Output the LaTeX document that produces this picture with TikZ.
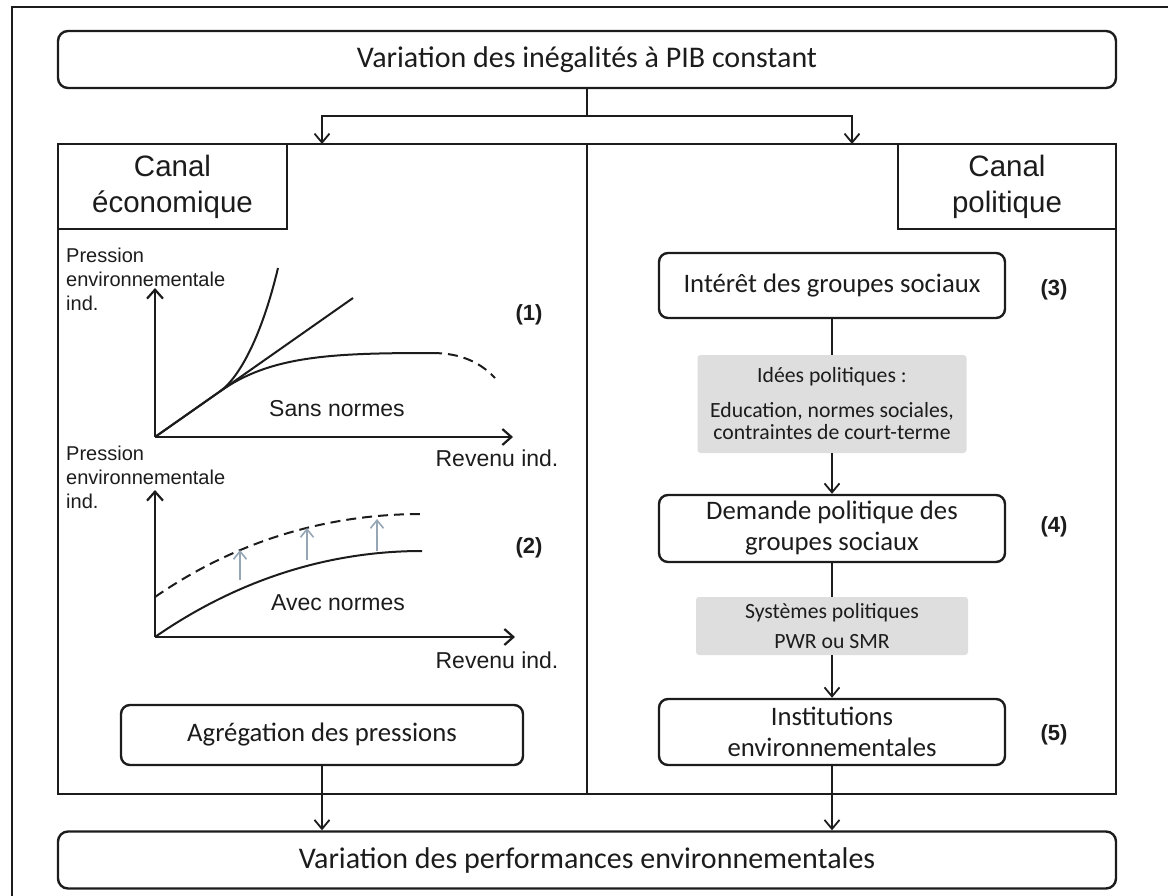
\documentclass[tikz,border=0pt]{standalone}
\usepackage{fontspec}
\setmainfont{Carlito}
\newfontfamily\arialfont{Liberation Sans}
\newfontfamily\arialgras{Liberation Sans Bold}
\usetikzlibrary{positioning,arrows.meta,calc}
\definecolor{grisbox}{RGB}{222,222,222}
\definecolor{grisfleche}{RGB}{150,166,180}
\definecolor{encre}{RGB}{28,28,28}
\tikzset{
  cadre/.style={draw=encre, line width=2.4pt},
  boite/.style={cadre, rounded corners=9pt, align=center, inner sep=0pt, text=encre,
    minimum width=346pt, font=\fontsize{26.7}{31}\selectfont},
  grande/.style={cadre, rounded corners=10pt, inner sep=0pt, text=encre,
    minimum width=1058pt, minimum height=57pt, font=\fontsize{30}{36}\selectfont},
  grise/.style={fill=grisbox, rounded corners=3pt, align=center, inner sep=0pt, text=encre,
    font=\fontsize{21.7}{22}\selectfont},
  canal/.style={cadre, align=center, inner sep=0pt, minimum height=85pt, text=encre,
    font=\arialfont\fontsize{29.5}{36}\selectfont},
  etiq/.style={align=left, inner sep=0pt, text=encre, font=\arialfont\fontsize{20}{24}\selectfont},
  legende/.style={inner sep=0pt, text=encre, font=\arialfont\fontsize{23}{27}\selectfont},
  num/.style={inner sep=0pt, text=encre, font=\arialgras\fontsize{22}{27}\selectfont},
  lien/.style={draw=encre, line width=1.8pt},
  fleche/.style={lien, -{Straight Barb[length=9pt,width=15pt,line width=1.8pt]}},
  axe/.style={draw=encre, line width=2.2pt, -{Straight Barb[length=9pt,width=16pt,line width=2.2pt]}},
  courbe/.style={draw=encre, line width=2pt},
  pointille/.style={courbe, dashed, dash pattern=on 10pt off 6pt},
  hausse/.style={draw=grisfleche, line width=1.6pt, -{Straight Barb[length=8pt,width=13pt,line width=1.6pt]}}
}
\begin{document}
\begin{tikzpicture}[x=1pt,y=-1pt]
\useasboundingbox (0,0) rectangle (1168,896);
% page frame
\draw[draw=encre, line width=2pt] (12,896) -- (12,7) -- (1168,7);

\node[grande] (inegal) at (587,59.5) {Variation des inégalités à PIB constant};
\node[grande] (perf) at (587,860) {Variation des performances environnementales};

% the two channels
\node[cadre, minimum width=1058pt, minimum height=650pt, inner sep=0pt] (canaux) at (587,469) {};
\draw[cadre] (canaux.north) -- (canaux.south);
\node[canal, anchor=north west, minimum width=229pt] (eco) at (canaux.north west) {Canal\\économique};
\node[canal, anchor=north east, minimum width=218pt] (pol) at (canaux.north east) {Canal\\politique};

\coordinate (split) at (587,116);
\coordinate (ecoIn) at (322,144);
\coordinate (polIn) at (852,144);
\draw[lien] (inegal) -- (split);
\draw[fleche] (split) -| (ecoIn);
\draw[fleche] (split) -| (polIn);

% graph (1)
\coordinate (o1) at (155,437);
\coordinate (y1) at (155,288);
\coordinate (x1) at (513,437);
\coordinate (branche) at (220,391.4);
\draw[axe] (o1) -- (y1);
\draw[axe] (o1) -- (x1);
\draw[courbe] (o1) -- (branche) .. controls (240,377) and (262,335) .. (278,268);
\draw[courbe] (o1) -- (353,298);
\draw[courbe] (branche) .. controls (270,356) and (330,353) .. (432,353) coordinate (pic);
\draw[pointille] (pic) .. controls (460,353) and (480,362) .. (495,378);
\node[etiq, anchor=north west] (press1) at (66,248) {Pression\\environnementale\\ind.};
\node[legende] (sans) at (337,409) {Sans normes};
\node[legende] (rev1) at (497,458) {Revenu ind.};
\node[num] (n1) at (529,315) {(1)};

% graph (2)
\coordinate (o2) at (155,637);
\coordinate (y2) at (155,490);
\coordinate (x2) at (515,637);
\draw[axe] (o2) -- (y2);
\draw[axe] (o2) -- (x2);
\draw[courbe] (o2) .. controls (230,585) and (320,551) .. (422,551);
\draw[pointille] (155,597) .. controls (230,545) and (320,514) .. (422,514);
\foreach \x/\a/\b in {240/580/550, 307/560/528, 377/551/519}
  \draw[hausse] (\x,\a) -- (\x,\b);
\node[etiq, anchor=north west] (press2) at (66,446) {Pression\\environnementale\\ind.};
\node[legende] (avec) at (338,603) {Avec normes};
\node[legende] (rev2) at (497,660) {Revenu ind.};
\node[num] (n2) at (529,548) {(2)};

\node[boite, minimum width=402pt, minimum height=60pt] (agreg) at (322,735) {Agrégation des pressions};

% political chain
\node[boite, minimum height=65pt] (interet) at (832,285.5) {Intérêt des groupes sociaux};
\node[grise, minimum width=269pt, minimum height=98pt] (idees) at (832,404)
  {Idées politiques :\\[13pt]Education, normes sociales,\\contraintes de court-terme};
\node[boite, minimum height=67pt] (demande) at (832,528.5) {Demande politique des\\groupes sociaux};
\node[grise, minimum width=272pt, minimum height=58pt, font=\fontsize{21.7}{30}\selectfont] (systemes) at (832,626)
  {Systèmes politiques\\PWR ou SMR};
\node[boite, minimum height=66pt] (instit) at (832,732) {Institutions\\environnementales};
\node[num] (n3) at (1054,290) {(3)};
\node[num] (n4) at (1054,527) {(4)};
\node[num] (n5) at (1054,735) {(5)};

\draw[lien] (interet) -- (idees);
\draw[fleche] (idees) -- (demande);
\draw[lien] (demande) -- (systemes);
\draw[fleche] (systemes) -- (instit);

\draw[fleche] (agreg) -- (agreg |- perf.north);
\draw[fleche] (instit) -- (instit |- perf.north);
\end{tikzpicture}
\end{document}
